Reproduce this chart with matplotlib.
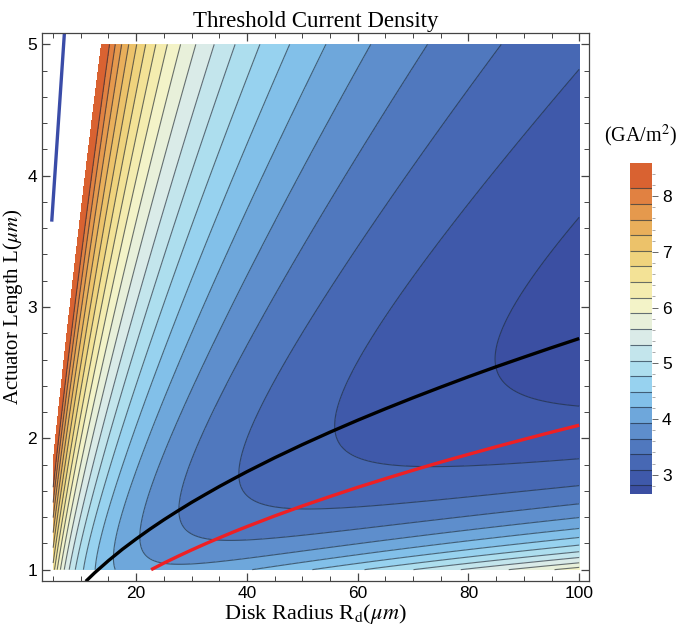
import numpy as np
import matplotlib
matplotlib.use('Agg')
import matplotlib.pyplot as plt
from matplotlib.colors import LinearSegmentedColormap, Normalize
from matplotlib.ticker import MultipleLocator

plt.rcParams['mathtext.fontset'] = 'stix'
SERIF = ['Liberation Serif', 'DejaVu Serif']
SANS = ['Liberation Sans', 'DejaVu Sans']

# surface: J(R, L) = C + a L^m / R^p + b R^q / L^n + c / R
C0, A1, M1, P1 = -0.2600, 11.8348, 0.6, 0.5
B2, Q2, N2 = 0.1274, 0.8, 1.9
C3 = 5.6398
r_range = (5, 100)
l_range = (1, 5)

j_min, j_max = 2.655, 8.59
contour_levels = [2.81, 3.09, 3.37, 3.65, 3.93, 4.21, 4.49, 4.77, 5.05, 5.33,
                  5.62, 5.90, 6.18, 6.46, 6.74, 7.02, 7.30, 7.58, 7.86, 8.14]

# optimum length (black), second curve (red), left boundary line (blue)
black_r = [10.9, 12.5, 15, 17.5, 20, 22.5, 25, 27.5, 30, 32.5, 35, 37.5, 40, 42.5,
           45, 47.5, 50, 55, 60, 65, 70, 75, 80, 85, 90, 95, 100]
black_l = [0.911, 0.976, 1.069, 1.155, 1.234, 1.309, 1.380, 1.447, 1.512, 1.573,
           1.633, 1.690, 1.746, 1.799, 1.852, 1.902, 1.952, 2.047, 2.138, 2.225,
           2.309, 2.390, 2.469, 2.545, 2.618, 2.690, 2.760]
red_r = [22.7, 25, 27.5, 30, 32.5, 35, 37.5, 40, 45, 50, 55, 60, 65, 70, 75, 80,
         85, 90, 95, 100]
red_l = [1.000, 1.050, 1.101, 1.150, 1.197, 1.242, 1.286, 1.328, 1.409, 1.485,
         1.557, 1.627, 1.693, 1.757, 1.819, 1.878, 1.936, 1.992, 2.047, 2.100]
blue_r = [4.75, 7.04]
blue_l = [3.65, 5.087]

cb_colors = ['#3a4ca0', '#405cac', '#5078be', '#69a0d7', '#8ccdf0', '#b4e1ee',
             '#dcece8', '#f3f4cd', '#f4e8a0', '#eecd73', '#e8ac58', '#e18241', '#d45028']
cb_stops = [2.655, 3.0, 3.5, 4.0, 4.5, 5.0, 5.5, 6.0, 6.5, 7.0, 7.5, 8.0, 8.59]
cmap = LinearSegmentedColormap.from_list(
    'thermo', [((s - j_min) / (j_max - j_min), c) for s, c in zip(cb_stops, cb_colors)])
norm = Normalize(j_min, j_max)

rr, ll = np.meshgrid(np.linspace(*r_range, 400), np.linspace(*l_range, 400))
jj = C0 + A1 * ll**M1 / rr**P1 + B2 * rr**Q2 / ll**N2 + C3 / rr

fig = plt.figure(figsize=(6.78, 6.33), dpi=100)
ax = fig.add_axes([0.062, 0.082, 0.807, 0.866])
bands = [j_min] + contour_levels + [j_max]
cf = ax.contourf(rr, ll, jj, levels=bands, cmap=cmap, norm=norm)
cs = ax.contour(rr, ll, jj, levels=contour_levels, colors='#1e2a3a',
                linewidths=0.8, alpha=0.65)

ax.plot(black_r, black_l, color='black', lw=2.4, solid_capstyle='butt')
ax.plot(red_r, red_l, color='#ee2024', lw=2.4, solid_capstyle='butt')
ax.plot(blue_r, blue_l, color='#3a4ca8', lw=2.4, solid_capstyle='butt')

ax.set_xlim(3.0, 101.8)
ax.set_ylim(0.913, 5.087)
ax.xaxis.set_major_locator(MultipleLocator(20))
ax.xaxis.set_minor_locator(MultipleLocator(5))
ax.yaxis.set_major_locator(MultipleLocator(1))
ax.yaxis.set_minor_locator(MultipleLocator(0.2))
ax.tick_params(which='both', direction='in', top=True, right=True, color='#444444')
ax.tick_params(which='major', length=6, width=0.9, labelsize=12.5)
ax.tick_params(which='minor', length=3.5, width=0.7)
for lab in ax.get_xticklabels() + ax.get_yticklabels():
    lab.set_family(SANS)
for sp in ax.spines.values():
    sp.set_color('#444444')
    sp.set_linewidth(0.9)

ax.set_title('Threshold Current Density', family=SERIF, fontsize=16.5, pad=4)
ax.set_xlabel(r'Disk Radius R$_{\mathrm{d}}$($\mu m$)', family=SERIF, fontsize=16, labelpad=1)
ax.set_ylabel(r'Actuator Length L($\mu m$)', family=SERIF, fontsize=15)
ax.yaxis.set_label_coords(-0.032, 0.5)

cax = fig.add_axes([0.929, 0.2196, 0.032, 0.5224])
cb = fig.colorbar(cf, cax=cax, spacing='proportional')
cb.add_lines(cs)
cb.set_ticks([3, 4, 5, 6, 7, 8])
cb.ax.yaxis.set_minor_locator(MultipleLocator(0.2))
cb.ax.tick_params(which='major', length=4, width=0.7, labelsize=12.5, color='#666666')
cb.ax.tick_params(which='minor', length=2, width=0.5, color='#888888')
for lab in cb.ax.get_yticklabels():
    lab.set_family(SANS)
cb.outline.set_visible(False)
fig.text(0.944, 0.765, r'(GA/m$^2$)', family=SERIF, fontsize=14.5, ha='center', va='bottom')

fig.savefig('out.png', dpi=100)
